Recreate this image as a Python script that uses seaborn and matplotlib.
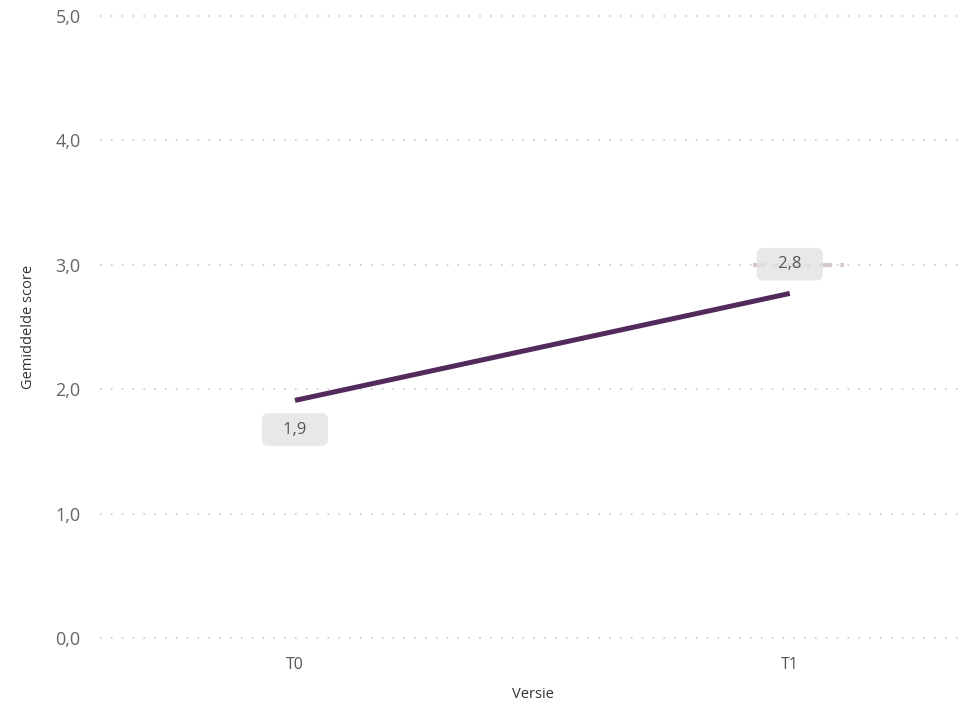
import numpy as np
import pandas as pd
import matplotlib
matplotlib.use("Agg")
import matplotlib.pyplot as plt
import seaborn as sns

# data
versies = ["T0", "T1"]
scores = [1.91, 2.77]
score_labels = ["1,9", "2,8"]
label_side = [-1, 1]          # label below / above the point
target_versies = ["T1"]
target_scores = [3.0]
yticks = [0, 1, 2, 3, 4, 5]
ytick_labels = ["0,0", "1,0", "2,0", "3,0", "4,0", "5,0"]

sns.set_theme(style="white")
plt.rcParams["font.family"] = ["Open Sans", "DejaVu Sans"]

df = pd.DataFrame({"Versie": versies, "score": scores})

fig = plt.figure(figsize=(9.71, 7.01), dpi=100)
ax = fig.add_axes([100 / 971, 63 / 701, 865 / 971, 622 / 701])

sns.lineplot(data=df, x="Versie", y="score", color="#532a5c", linewidth=3.6,
             ax=ax, solid_capstyle="butt")

# target marker (dashed short segment)
for v, t in zip(target_versies, target_scores):
    i = versies.index(v)
    ax.hlines(t, i - 0.075, i + 0.11, colors="#d6c6d0", linewidth=3,
              linestyles=(0, (3, 2, 1, 2)), zorder=1)

# data labels
for i, (s, lab, side) in enumerate(zip(scores, score_labels, label_side)):
    ax.annotate("   " + lab + "   ", (i, s), xytext=(0, 21 * side),
                textcoords="offset points",
                ha="center", va="center", fontsize=12, color="#555555",
                bbox=dict(boxstyle="round,pad=0.5,rounding_size=0.4",
                          fc="#e3e3e3", ec="none", alpha=0.8), zorder=5)

ax.set_ylim(0, 5)
ax.set_xlim(-0.394, 1.354)
ax.set_yticks(yticks)
ax.set_yticklabels(ytick_labels)
ax.tick_params(axis="both", length=0, labelsize=13, labelcolor="#666666")
ax.tick_params(axis="y", pad=14)
ax.tick_params(axis="x", pad=14)
for t in ax.get_xticklabels():
    t.set_fontsize(11.5)
    t.set_color("#555555")

ax.grid(axis="y", color="#c8c8c8", linestyle=(0, (1, 5.5)), linewidth=1.2)
ax.grid(axis="x", visible=False)
for sp in ax.spines.values():
    sp.set_visible(False)
for gl in ax.get_ygridlines():
    gl.set_clip_on(False)

ax.set_xlabel("Versie", fontsize=10.5, color="#333333", labelpad=10)
ax.set_ylabel("Gemiddelde score", fontsize=10.5, color="#333333", labelpad=14)

fig.savefig("out.png", dpi=100)
